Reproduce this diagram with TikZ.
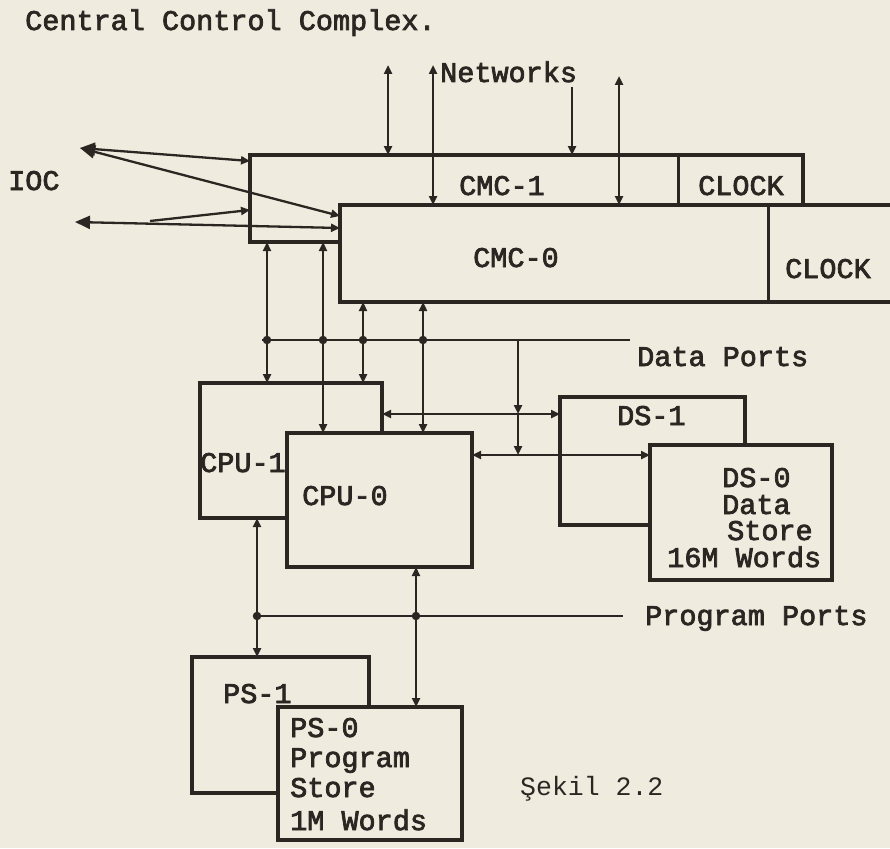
\documentclass[tikz,border=0pt]{standalone}
\usepackage{fontspec}
\usetikzlibrary{arrows.meta}
\newfontfamily\schreib{Liberation Mono}[FakeBold=2.6]
\newfontfamily\duenn{Liberation Mono}
\definecolor{papier}{HTML}{EFEBDF}
\definecolor{tinte}{HTML}{2B2621}
\tikzset{
  kasten/.style={draw=tinte,fill=papier,line width=3.4pt,anchor=north west,inner sep=0pt,outer sep=0pt},
  teil/.style={tinte,line width=3pt},
  txt/.style={tinte,inner sep=0pt,anchor=base west,font=\schreib\fontsize{28.5}{31}\selectfont},
  ltg/.style={tinte,line width=2.3pt},
  ein/.style={ltg,-{Triangle[length=9pt,width=8pt]}},
  zwei/.style={ltg,{Triangle[length=9pt,width=8pt]}-{Triangle[length=9pt,width=8pt]}},
  iocpfeil/.style={ltg,{Triangle[length=15pt,width=13pt]}-{Triangle[length=9pt,width=8pt]}},
  pkt/.style={circle,fill=tinte,inner sep=0pt,minimum size=8.5pt},
}

\begin{document}
\begin{tikzpicture}[x=1pt,y=-1pt]
  \path[use as bounding box,fill=papier] (0,0) rectangle (890,848);
  \clip (0,0) rectangle (890,848);
  \node[txt] (titel) at (25,30) {Central Control Complex.};
  % CMC
  \node[kasten,minimum width=553pt,minimum height=87pt] (cmc1) at (250,155) {};
  \draw[teil] (678,0 |- cmc1.north) -- (678,0 |- cmc1.south);
  \node[kasten,minimum width=570pt,minimum height=97pt] (cmc0) at (340,205) {};
  \draw[teil] (768,0 |- cmc0.north) -- (768,0 |- cmc0.south);
  \node[txt] (tcmc1) at (459,195) {CMC-1};
  \node[txt] (tclk1) at (698,195) {CLOCK};
  \node[txt] (tcmc0) at (473,267) {CMC-0};
  \node[txt] (tclk0) at (785,278) {CLOCK};
  % Networks
  \node[txt] (netz) at (440,82) {Networks};
  \coordinate (n1) at (388,65);
  \coordinate (n2) at (433,65);
  \coordinate (n3) at (572,87);
  \coordinate (n4) at (619,76);
  \draw[zwei] (n1) -- (n1 |- cmc1.north);
  \draw[zwei] (n2) -- (n2 |- cmc0.north);
  \draw[ein] (n3) -- (n3 |- cmc1.north);
  \draw[zwei] (n4) -- (n4 |- cmc0.north);
  % IOC
  \node[txt] (tioc) at (8,190) {IOC};
  \coordinate (ioca) at (80,148);
  \coordinate (iocb) at (75,222);
  \coordinate (iocz) at (150,221);
  \draw[iocpfeil] (ioca) -- (cmc1.west |- 0,161);
  \draw[iocpfeil] (ioca) -- (cmc0.west |- 0,216);
  \draw[iocpfeil] (iocb) -- (cmc0.west |- 0,228);
  \draw[ein] (iocz) -- (cmc1.west |- 0,210);
  % CPU, DS
  \node[kasten,minimum width=182pt,minimum height=135pt] (cpu1) at (200,383) {};
  \node[kasten,minimum width=185pt,minimum height=134pt] (cpu0) at (287,433) {};
  \node[kasten,minimum width=185pt,minimum height=128pt] (ds1) at (560,397) {};
  \node[kasten,minimum width=182pt,minimum height=135pt] (ds0) at (650,445) {};
  \node[txt] (tcpu1) at (200,472) {CPU-1};
  \node[txt] (tcpu0) at (302,505) {CPU-0};
  \node[txt] (tds1) at (617,425) {DS-1};
  \node[txt] (tds0) at (722,487) {DS-0};
  \node[txt] (tdata) at (722,514) {Data};
  \node[txt] (tstore) at (727,540) {Store};
  \node[txt] (tword) at (667,567) {16M Words};
  % Data Ports
  \coordinate (db1) at (262,340);
  \coordinate (db2) at (630,340);
  \draw[ltg] (db1) -- (db2);
  \node[txt] (tdp) at (637,366) {Data Ports};
  \draw[zwei] (267,0 |- cmc1.south) -- (267,0 |- cpu1.north);
  \draw[zwei] (323,0 |- cmc1.south) -- (323,0 |- cpu0.north);
  \draw[zwei] (363,0 |- cmc0.south) -- (363,0 |- cpu1.north);
  \draw[zwei] (423,0 |- cmc0.south) -- (423,0 |- cpu0.north);
  \node[pkt] (p1) at (267,0 |- db1) {};
  \node[pkt] (p2) at (323,0 |- db1) {};
  \node[pkt] (p3) at (363,0 |- db1) {};
  \node[pkt] (p4) at (423,0 |- db1) {};
  \coordinate (l1) at (cpu1.east |- 0,414);
  \coordinate (l2) at (cpu0.east |- 0,455);
  \draw[zwei] (l1) -- (l1 -| ds1.west);
  \draw[zwei] (l2) -- (l2 -| ds0.west);
  \draw[ein] (518,0 |- db1) -- (518,0 |- l1);
  \draw[ein] (518,0 |- l1) -- (518,0 |- l2);
  % PS
  \node[kasten,minimum width=177pt,minimum height=136pt] (ps1) at (192,657) {};
  \node[kasten,minimum width=184pt,minimum height=133pt] (ps0) at (278,707) {};
  \node[txt] (tps1) at (223,703) {PS-1};
  \node[txt] (tps0) at (290,737) {PS-0};
  \node[txt] (tprog) at (290,767) {Program};
  \node[txt] (tpst) at (290,797) {Store};
  \node[txt] (tpw) at (290,830) {1M Words};
  % Program Ports
  \coordinate (pb1) at (257,616);
  \coordinate (pb2) at (623,616);
  \draw[ltg] (pb1) -- (pb2);
  \node[txt] (tpp) at (645,625) {Program Ports};
  \draw[zwei] (257,0 |- cpu1.south) -- (257,0 |- ps1.north);
  \draw[zwei] (416,0 |- cpu0.south) -- (416,0 |- ps0.north);
  \node[pkt] (p5) at (257,0 |- pb1) {};
  \node[pkt] (p6) at (416,0 |- pb1) {};
  \node[tinte,inner sep=0pt,anchor=base west,font=\duenn\fontsize{26.5}{29}\selectfont] (sekil) at (520,795) {Şekil 2.2};
\end{tikzpicture}
\end{document}
